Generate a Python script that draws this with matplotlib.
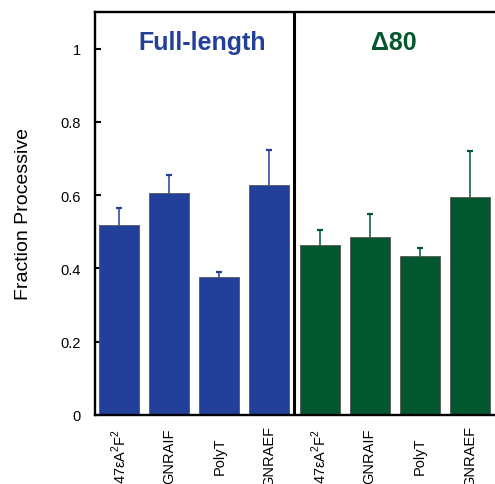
import matplotlib
matplotlib.use("Agg")
import matplotlib.pyplot as plt
import numpy as np

plt.rcParams['font.family'] = ['Liberation Sans', 'DejaVu Sans']
plt.rcParams['mathtext.fontset'] = 'custom'
plt.rcParams['mathtext.rm'] = 'Liberation Sans'

labels = ["47εA$^2$F$^2$", "GNRAIF", "PolyT", "GNRAEF"]
fullLength = [0.518, 0.605, 0.378, 0.627]
fullLengthErr = [0.046, 0.050, 0.011, 0.096]
delta80 = [0.463, 0.485, 0.433, 0.595]
delta80Err = [0.041, 0.063, 0.022, 0.125]

blue = "#22409A"
green = "#03572E"

fig = plt.figure(figsize=(4.95, 4.85), dpi=100)
ax = fig.add_axes([95/495, 69/485, 400/495, 403/485])

xBlue = np.arange(4)
xGreen = np.arange(4) + 4
ax.bar(xBlue, fullLength, width=0.8, color=blue, edgecolor="#555555", linewidth=0.6, zorder=2)
ax.bar(xGreen, delta80, width=0.8, color=green, edgecolor="#555555", linewidth=0.6, zorder=2)
# symmetric errors drawn under the bars, so only the upper half shows
ax.errorbar(xBlue, fullLength, yerr=fullLengthErr, fmt="none",
            ecolor=blue, elinewidth=1.1, capsize=2.5, capthick=1.6, zorder=1)
ax.errorbar(xGreen, delta80, yerr=delta80Err, fmt="none",
            ecolor=green, elinewidth=1.1, capsize=2.5, capthick=1.6, zorder=1)

ax.axvline(3.5, color="black", linewidth=2.2, zorder=3)

ax.set_xlim(-0.48, 7.5)
ax.set_ylim(0, 1.1)
ax.set_yticks([0, 0.2, 0.4, 0.6, 0.8, 1])
ax.set_yticklabels(["0", "0.2", "0.4", "0.6", "0.8", "1"])
ax.tick_params(axis="y", direction="in", length=4.5, width=1.5, pad=10, labelsize=10.5)
ax.set_xticks(list(xBlue) + list(xGreen))
ax.set_xticklabels(labels + labels, rotation=90, va="center", fontsize=10.5)
ax.tick_params(axis="x", length=0, pad=29)

ax.set_ylabel("Fraction Processive", fontsize=14, labelpad=21)

for side in ["left", "bottom", "top"]:
    ax.spines[side].set_linewidth(1.7)
ax.spines["right"].set_visible(False)

ax.text(1.65, 1.0, "Full-length", color=blue, fontsize=18, fontweight="bold",
        ha="center", va="baseline")
ax.text(5.48, 1.0, "Δ80", color=green, fontsize=18, fontweight="bold",
        ha="center", va="baseline")

fig.savefig("out.png", dpi=100)
